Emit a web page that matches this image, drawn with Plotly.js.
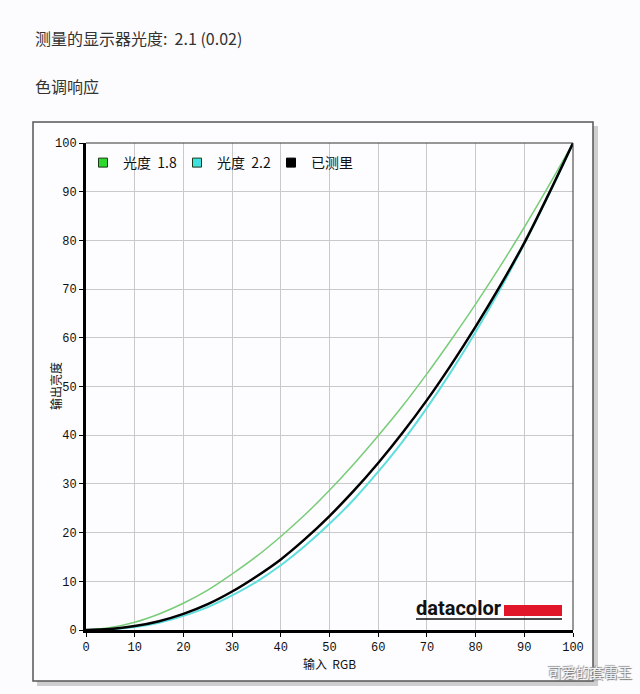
<!DOCTYPE html>
<html>
<head>
<meta charset="utf-8">
<script src="https://cdn.plot.ly/plotly-3.0.1.min.js"></script>
<style>
html,body{margin:0;padding:0;background:#fcfcfe;}
#chart{width:640px;height:694px;}
</style>
</head>
<body>
<div id="chart"></div>
<script>
// Input RGB (%)
const inputRGB = [0,5,10,15,20,25,30,35,40,45,50,55,60,65,70,75,80,85,90,95,100];
// Output luminance (%) for each series
const gamma18 = [0,0.5,1.6,3.3,5.5,8.2,11.5,15.1,19.2,23.7,28.7,34.1,39.9,46.0,52.6,59.6,66.9,74.6,82.7,91.2,100];
const gamma22 = [0,0.15,0.6,1.5,2.9,4.7,7.1,9.9,13.3,17.3,21.8,26.8,32.5,38.7,45.6,53.1,61.2,69.9,79.3,89.3,100];
const measured = [0,0.2,0.8,1.8,3.3,5.3,7.9,11.0,14.5,18.7,23.4,28.6,34.3,40.5,47.2,54.5,62.3,70.6,79.5,89.5,100];
const tickVals = [0,10,20,30,40,50,60,70,80,90,100];
const seriesNames = ['光度  1.8','光度  2.2','已测里'];
const seriesColors = ['#78cc78','#5fdede','#000000'];
const legendColors = ['#2ed82e','#3ee0e0','#000000'];

const pageTitle = '测量的显示器光度:  2.1 (0.02)';
const sectionTitle = '色调响应';
const xTitle = '输入  RGB';
const yTitle = '输出亮度';
const watermark = '可爱的套雷王';

const tickFont = {family:'Liberation Mono, DejaVu Sans Mono, monospace', size:12, color:'#111'};
const cjk = 'Noto Sans CJK SC, Noto Sans, sans-serif';

const traces = [
  {x:inputRGB, y:gamma18, mode:'lines', line:{color:seriesColors[0], width:1.5, shape:'spline'}, showlegend:false, hoverinfo:'skip'},
  {x:inputRGB, y:gamma22, mode:'lines', line:{color:seriesColors[1], width:2, shape:'spline'}, showlegend:false, hoverinfo:'skip'},
  {x:inputRGB, y:measured, mode:'lines', line:{color:seriesColors[2], width:2.5, shape:'spline'}, showlegend:false, hoverinfo:'skip'}
];
for (let i=0;i<3;i++){
  traces.push({x:[null], y:[null], mode:'markers', name:seriesNames[i],
    marker:{symbol:'square', size:9, color:legendColors[i], line:{color: i===2?'#000':'#1a3a1a', width:1}},
    showlegend:true, hoverinfo:'skip'});
}

// plot area: 86..573 px horizontally, 143..630 px vertically (487px each)
const W=487, H=487, L=86, T=143;
const px = v => (v - L)/W;
const py = v => (T + H - v)/H;

const layout = {
  width:640, height:694,
  margin:{l:86, r:67, t:143, b:64, pad:0},
  paper_bgcolor:'#fcfcfe',
  plot_bgcolor:'rgba(0,0,0,0)',
  showlegend:true,
  legend:{orientation:'h', x:px(83), y:py(163), yanchor:'middle', xanchor:'left',
    bgcolor:'rgba(0,0,0,0)', font:{family:cjk, size:14, color:'#111'},
    entrywidth:49, entrywidthmode:'pixels', itemwidth:30, tracegroupgap:0},
  xaxis:{range:[0,100], tickvals:tickVals, ticktext:tickVals.map(String),
    showgrid:true, gridcolor:'#c9c9c9', gridwidth:1, zeroline:false,
    showline:true, linecolor:'#000', linewidth:3,
    ticks:'outside', ticklen:4, tickcolor:'#000', tickfont:tickFont,
    title:{text:xTitle, font:{family:cjk, size:12, color:'#111'}, standoff:5},
    fixedrange:true},
  yaxis:{range:[0,100], tickvals:tickVals, ticktext:tickVals.map(String),
    showgrid:true, gridcolor:'#c9c9c9', gridwidth:1, zeroline:false,
    showline:true, linecolor:'#000', linewidth:3,
    ticks:'outside', ticklen:4, tickcolor:'#000', tickfont:tickFont,
    fixedrange:true},
  shapes:[
    // frame shadow
    {type:'rect', xref:'paper', yref:'paper', x0:px(37), x1:px(598), y0:py(126), y1:py(686),
     line:{width:0}, fillcolor:'rgba(120,120,120,0.35)', layer:'below'},
    // frame
    {type:'rect', xref:'paper', yref:'paper', x0:px(33), x1:px(593), y0:py(122), y1:py(681),
     line:{color:'#555', width:1.5}, fillcolor:'#fdfdff', layer:'below'},
    // thin top/right border of plot
    {type:'line', xref:'paper', yref:'paper', x0:0, x1:1, y0:1, y1:1, line:{color:'#333', width:1}},
    {type:'line', xref:'paper', yref:'paper', x0:1, x1:1, y0:0, y1:1, line:{color:'#333', width:1}},
    // datacolor logo bar and underline
    {type:'rect', xref:'paper', yref:'paper', x0:px(504), x1:px(562), y0:py(616), y1:py(605),
     line:{width:0}, fillcolor:'#e2162b'},
    {type:'line', xref:'paper', yref:'paper', x0:px(416), x1:px(562), y0:py(619), y1:py(619),
     line:{color:'#111', width:1.5}}
  ],
  annotations:[
    {text:pageTitle, xref:'paper', yref:'paper', x:px(33), y:py(38), xanchor:'left', yanchor:'middle',
     showarrow:false, font:{family:cjk, size:16, color:'#333'}},
    {text:sectionTitle, xref:'paper', yref:'paper', x:px(33), y:py(86), xanchor:'left', yanchor:'middle',
     showarrow:false, font:{family:cjk, size:16, color:'#333'}},
    {text:yTitle, xref:'paper', yref:'paper', x:px(55), y:py(386), xanchor:'center', yanchor:'middle',
     textangle:-90, showarrow:false, font:{family:cjk, size:12, color:'#111'}},
    {text:'<b>datacolor</b>', xref:'paper', yref:'paper', x:px(414), y:py(608), xanchor:'left', yanchor:'middle',
     showarrow:false, font:{family:'Roboto, Liberation Sans, sans-serif', size:20, color:'#111'}},
    {text:watermark, xref:'paper', yref:'paper', x:px(634), y:py(672), xanchor:'right', yanchor:'middle',
     showarrow:false, font:{family:cjk, size:14, color:'#f4f4f4', shadow:'1px 1px 1px #777, -1px -1px 1px #999'}}
  ]
};

Plotly.newPlot('chart', traces, layout, {displayModeBar:false, staticPlot:true});
</script>
</body>
</html>
